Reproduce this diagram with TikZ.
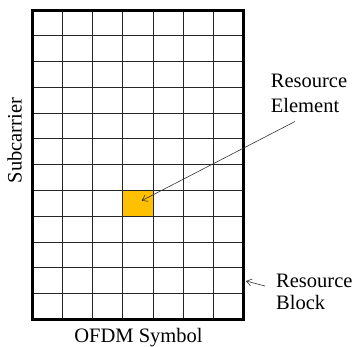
\documentclass[tikz,border=0pt]{standalone}
\usepackage{fontspec}
\setmainfont{Liberation Serif}
\usetikzlibrary{arrows.meta}
\definecolor{cellorange}{HTML}{FFC000}
\tikzset{
  gridline/.style={draw=black!85, line width=1pt},
  border/.style={draw=black, line width=3pt},
  lbl/.style={inner sep=0pt, font=\rmfamily\fontsize{20.5}{25}\selectfont},
  pointer/.style={draw=black!80, line width=0.6pt, -{Straight Barb[length=5pt,width=7pt]}}
}
\begin{document}
\begin{tikzpicture}[x=1pt, y=-1pt]
\useasboundingbox (0,0) rectangle (356,346);
% orange resource element
\node[fill=cellorange, inner sep=0pt, minimum width=30.14pt, minimum height=25.79pt] (cell) at (138.0,203.5) {};
% interior grid lines
\foreach \i in {1,...,6} {
  \draw[gridline] ({32.5+\i*30.143},10) -- ({32.5+\i*30.143},319.5);
}
\foreach \j in {1,...,11} {
  \draw[gridline] (32.5,{10+\j*25.79}) -- (243.5,{10+\j*25.79});
}
% resource block border
\node[border, minimum width=211pt, minimum height=309.5pt, inner sep=0pt] (rb) at (138,164.75) {};
% labels
\node[lbl, rotate=90, anchor=base] (sub) at (21.5,140.5) {Subcarrier};
\node[lbl, anchor=base] (ofdm) at (138.5,342) {OFDM Symbol};
\node[lbl, align=left, anchor=north west] (relbl) at (270.7,73.5) {Resource\\Element};
\node[lbl, align=left, anchor=north west, font=\rmfamily\fontsize{20.5}{22}\selectfont] (rblbl) at (276,273.4) {Resource\\Block};
% pointers
\coordinate (reStart) at (295,121.5);
\coordinate (reEnd) at (141.7,200.7);
\coordinate (rbStart) at (265,286);
\coordinate (rbEnd) at (246,281);
\draw[pointer] (reStart) -- (reEnd);
\draw[pointer] (rbStart) -- (rbEnd);
\end{tikzpicture}
\end{document}
